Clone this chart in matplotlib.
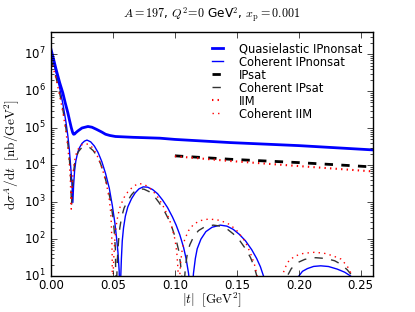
import matplotlib
matplotlib.use('Agg')
import matplotlib.pyplot as plt

plt.style.use('classic')
plt.rcParams['mathtext.fontset'] = 'cm'
plt.rcParams['font.family'] = 'DejaVu Sans'

# quasielastic IPnonsat (thick blue)
t_qe_nonsat = [0.0, 0.002, 0.0041, 0.007, 0.0095, 0.0115, 0.0136, 0.015, 0.0163, 0.0175,
               0.0182, 0.019, 0.020, 0.0217, 0.025, 0.0298, 0.033, 0.0366, 0.041, 0.044,
               0.0474, 0.052, 0.0663, 0.0879, 0.10, 0.145, 0.20, 0.26]
qe_nonsat = [1.35e7, 7.5e6, 3.9e6, 1.7e6, 9.1e5, 4.8e5, 2.6e5, 1.6e5, 1.05e5, 7.6e4,
             6.9e4, 7.0e4, 7.6e4, 8.5e4, 1.02e5, 1.12e5, 1.07e5, 9.4e4, 7.9e4, 6.9e4,
             6.4e4, 6.0e4, 5.7e4, 5.4e4, 5.0e4, 4.1e4, 3.4e4, 2.6e4]

# coherent IPnonsat (thin blue)
t_coh_nonsat = [0.0, 0.002, 0.004, 0.006, 0.008, 0.010, 0.012, 0.0135, 0.0148, 0.016,
                0.0168, 0.0176, 0.0182, 0.019, 0.020, 0.0215, 0.023, 0.025, 0.027, 0.029,
                0.032, 0.035, 0.038, 0.041, 0.044, 0.047, 0.0495, 0.0515, 0.053, 0.054,
                0.055, 0.0557,
                0.0562, 0.0568, 0.0575, 0.0585, 0.060, 0.062, 0.065, 0.068, 0.071, 0.0744,
                0.078, 0.082, 0.086, 0.090, 0.094, 0.098, 0.101, 0.104, 0.107, 0.109,
                0.111, 0.1125, 0.1136,
                0.1142, 0.115, 0.1165, 0.118, 0.121, 0.125, 0.130, 0.1366, 0.142, 0.147,
                0.152, 0.157, 0.162, 0.166, 0.169, 0.172, 0.174, 0.1758,
                0.1985, 0.200, 0.203, 0.207, 0.212, 0.2177, 0.224, 0.231, 0.237, 0.242,
                0.2445]
coh_nonsat = [1.0e7, 6e6, 3.3e6, 1.7e6, 8.5e5, 3.8e5, 1.5e5, 6.5e4, 2.6e4, 8e3,
              3.5e3, 9.8e2, 2.8e3, 7e3, 1.3e4, 2.2e4, 3e4, 3.9e4, 4.5e4, 4.8e4,
              4.3e4, 3.3e4, 2.2e4, 1.25e4, 6e3, 2.4e3, 8e2, 2.8e2, 1e2, 45,
              14, 1,
              8, 30, 90, 200, 420, 750, 1.25e3, 1.8e3, 2.3e3, 2.6e3,
              2.55e3, 2.2e3, 1.7e3, 1.15e3, 720, 400, 240, 130, 60, 30,
              12, 4, 1,
              5, 12, 30, 55, 100, 160, 210, 240, 225, 185,
              135, 90, 52, 30, 18, 9, 4, 1,
              3, 10, 13.5, 16, 18.3, 19, 18.2, 15.5, 12.8, 10,
              5]

# quasielastic IPsat (thick black dashed)
t_qe_ipsat = [0.10, 0.145, 0.20, 0.26]
qe_ipsat = [1.8e4, 1.45e4, 1.18e4, 9.0e3]

# coherent IPsat (thin dashed)
t_coh_ipsat = [0.0, 0.002, 0.004, 0.006, 0.008, 0.010, 0.012, 0.0135, 0.0148, 0.0158,
               0.0165, 0.0172, 0.018, 0.019, 0.0205, 0.022, 0.024, 0.026, 0.0285, 0.031,
               0.034, 0.037, 0.040, 0.043, 0.046, 0.048, 0.050, 0.051, 0.052, 0.0525,
               0.053, 0.0536, 0.0545, 0.0555, 0.057, 0.059, 0.062, 0.065, 0.068, 0.0717,
               0.075, 0.079, 0.083, 0.087, 0.091, 0.095, 0.098, 0.101, 0.103, 0.1045,
               0.1058, 0.1068,
               0.1075, 0.1085, 0.110, 0.112, 0.115, 0.119, 0.124, 0.131, 0.137, 0.142,
               0.147, 0.152, 0.157, 0.161, 0.164, 0.167, 0.1688, 0.1704,
               0.189, 0.1907, 0.194, 0.1988, 0.205, 0.2136, 0.222, 0.229, 0.234, 0.239,
               0.2434, 0.2455]
coh_ipsat = [7.5e6, 4.3e6, 2.4e6, 1.25e6, 6e5, 2.6e5, 1.0e5, 4e4, 1.5e4, 5e3,
             8e2, 2.5e3, 6e3, 1.05e4, 1.7e4, 2.3e4, 2.8e4, 3.1e4, 3.2e4, 3.05e4,
             2.5e4, 1.8e4, 1.1e4, 5.5e3, 2.3e3, 1.1e3, 380, 170, 50, 1,
             8, 30, 90, 200, 400, 700, 1.1e3, 1.6e3, 2.05e3, 2.3e3,
             2.25e3, 1.95e3, 1.5e3, 1.0e3, 620, 340, 190, 95, 50, 22,
             8, 1,
             6, 18, 40, 70, 115, 170, 215, 240, 225, 190,
             140, 95, 55, 32, 18, 8, 3.5, 1,
             3, 10, 16, 23, 28.5, 31.5, 30, 26, 21, 15,
             10, 4]

# IIM (thick red dotted)
t_qe_iim = [0.10, 0.145, 0.20, 0.26]
qe_iim = [1.75e4, 1.3e4, 9.5e3, 6.8e3]

# coherent IIM (thin red dotted)
t_coh_iim = [0.0, 0.002, 0.004, 0.006, 0.008, 0.010, 0.012, 0.0135, 0.0147, 0.0155,
             0.0163, 0.017, 0.0178, 0.0188, 0.020, 0.0215, 0.0235, 0.0255, 0.0279, 0.030,
             0.033, 0.036, 0.039, 0.042, 0.045, 0.047, 0.048, 0.0485, 0.049, 0.0494,
             0.0495,
             0.050, 0.0506, 0.0515, 0.0525, 0.054, 0.056, 0.059, 0.062, 0.066, 0.0703,
             0.074, 0.078, 0.082, 0.086, 0.090, 0.094, 0.097, 0.100, 0.1015, 0.1025,
             0.103,
             0.1037, 0.1047, 0.106, 0.108, 0.111, 0.115, 0.120, 0.127, 0.134, 0.140,
             0.1447, 0.150, 0.155, 0.158, 0.161, 0.164, 0.166, 0.1675, 0.169,
             0.185, 0.1866, 0.189, 0.192, 0.197, 0.204, 0.2123, 0.220, 0.227, 0.234,
             0.239, 0.2434, 0.2455]
coh_iim = [7e6, 4e6, 2.2e6, 1.1e6, 5.2e5, 2.2e5, 8.5e4, 3.2e4, 1.2e4, 5e3,
           650, 2.5e3, 6.5e3, 1.2e4, 1.9e4, 2.6e4, 3.3e4, 3.7e4, 3.8e4, 3.7e4,
           3.1e4, 2.2e4, 1.35e4, 6.8e3, 2.8e3, 1.2e3, 600, 350, 120, 30,
           1,
           8, 30, 100, 220, 450, 800, 1.35e3, 1.9e3, 2.6e3, 3.2e3,
           3.1e3, 2.7e3, 2.05e3, 1.4e3, 850, 450, 250, 100, 45, 15,
           1,
           8, 25, 55, 100, 170, 250, 315, 350, 335, 290,
           245, 170, 105, 70, 42, 22, 12, 6, 1,
           3, 10, 17, 26, 35, 41.5, 44, 42, 36, 29,
           19, 10, 4]

fig = plt.figure(figsize=(4.15, 3.12), dpi=100, facecolor='white')
ax = fig.add_axes([0.123, 0.115, 0.776, 0.782])

ax.plot(t_qe_nonsat, qe_nonsat, color='blue', lw=2, label='Quasielastic IPnonsat')
ax.plot(t_coh_nonsat, coh_nonsat, color='blue', lw=1, label='Coherent IPnonsat')
ax.plot(t_qe_ipsat, qe_ipsat, color='black', lw=2, ls='--', label='IPsat')
ax.plot(t_coh_ipsat, coh_ipsat, color='0.2', lw=1, ls='--', label='Coherent IPsat')
ax.plot(t_qe_iim, qe_iim, color='red', lw=1.5, ls=':', label='IIM')
ax.plot(t_coh_iim, coh_iim, color='red', lw=1, ls=':', label='Coherent IIM')

ax.set_yscale('log')
ax.set_xlim(0, 0.26)
ax.set_ylim(10, 4e7)
ax.set_xticks([0.0, 0.05, 0.10, 0.15, 0.20, 0.25])
ax.set_xticklabels(['0.00', '0.05', '0.10', '0.15', '0.20', '0.25'])
ax.tick_params(labelsize=8.5)
ax.tick_params(axis='x', pad=2)

ax.set_xlabel(r'$|t|\ \ [\mathrm{GeV}^2]$', fontsize=9.5, labelpad=-1)
ax.set_ylabel(r'$\mathrm{d}\sigma^A/\mathrm{d}t\ \ [\mathrm{nb}/\mathrm{GeV}^2]$', fontsize=9.5,
              labelpad=2)
ax.set_title(r'$A=197$, $Q^2\!=\!0$ GeV$^2$, $x_\mathrm{p}=0.001$', fontsize=8.7, y=1.03)

ax.legend(loc='upper right', frameon=False, fontsize=8.3, handlelength=1.55,
          labelspacing=0.0, borderaxespad=0.5, handletextpad=1.1)

fig.savefig('out.png', dpi=100, facecolor='white')
